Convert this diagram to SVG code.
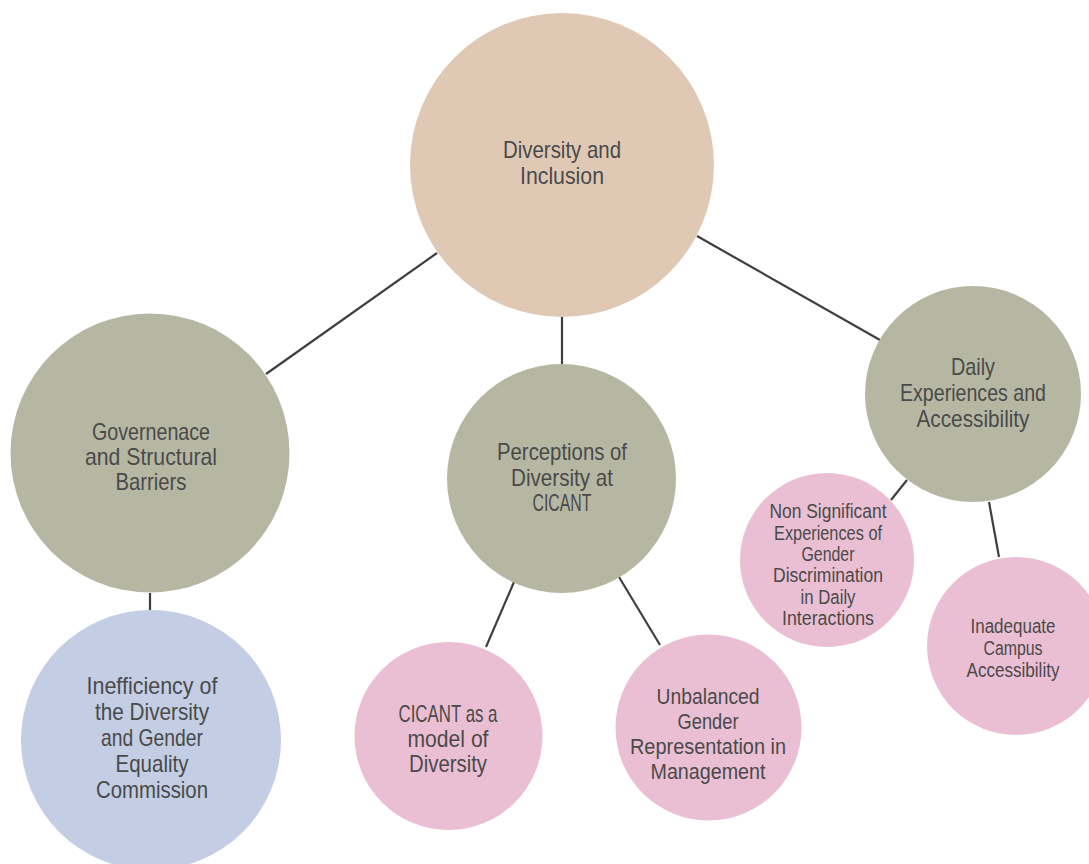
<svg xmlns="http://www.w3.org/2000/svg" width="1089" height="864" viewBox="0 0 1089 864">
  <style>
    .bg { fill: #ffffff; }
    .root { fill: #dfc9b5; }
    .theme { fill: #b6b7a3; }
    .blue { fill: #c3cde3; }
    .pink { fill: #eabfd3; }
    .edge { stroke: #3f3f3f; stroke-width: 2.2; fill: none; stroke-linecap: butt; }
    text { font-family: "Liberation Sans Narrow", "Liberation Sans", Arial, sans-serif; fill: #4a4a4a; text-anchor: middle; }
    .lg { font-size: 24px; }
    .md { font-size: 22px; }
    .sm { font-size: 20px; }
  </style>
  <rect class="bg" x="0" y="0" width="1089" height="864"/>

  <!-- connectors, drawn rim to rim -->
  <g id="connectors">
    <line class="edge" x1="437" y1="253" x2="266" y2="374"/>
    <line class="edge" x1="562" y1="317" x2="562" y2="365"/>
    <line class="edge" x1="697" y1="236" x2="880" y2="340"/>
    <line class="edge" x1="150" y1="593" x2="150" y2="610"/>
    <line class="edge" x1="514" y1="582" x2="486" y2="647"/>
    <line class="edge" x1="619" y1="577" x2="660" y2="645"/>
    <line class="edge" x1="907" y1="480" x2="891" y2="500"/>
    <line class="edge" x1="989" y1="502" x2="999" y2="557"/>
  </g>

  <g id="node-diversity-inclusion">
    <circle class="root" cx="562" cy="165" r="152"/>
    <text class="lg"><tspan x="562" y="158" textLength="118" lengthAdjust="spacingAndGlyphs">Diversity and</tspan><tspan x="562" y="184" textLength="84" lengthAdjust="spacingAndGlyphs">Inclusion</tspan></text>
  </g>

  <g id="node-governance">
    <circle class="theme" cx="150" cy="453" r="139.5"/>
    <text class="lg"><tspan x="151" y="440" textLength="118" lengthAdjust="spacingAndGlyphs">Governenace</tspan><tspan x="151" y="465" textLength="132" lengthAdjust="spacingAndGlyphs">and Structural</tspan><tspan x="151" y="490" textLength="71" lengthAdjust="spacingAndGlyphs">Barriers</tspan></text>
  </g>

  <g id="node-perceptions">
    <circle class="theme" cx="561.5" cy="478.5" r="114.5"/>
    <text class="lg"><tspan x="562" y="460" textLength="130" lengthAdjust="spacingAndGlyphs">Perceptions of</tspan><tspan x="562" y="485.5" textLength="102" lengthAdjust="spacingAndGlyphs">Diversity at</tspan><tspan x="562" y="511" textLength="59" lengthAdjust="spacingAndGlyphs">CICANT</tspan></text>
  </g>

  <g id="node-daily">
    <circle class="theme" cx="973" cy="394" r="108"/>
    <text class="lg"><tspan x="973" y="375" textLength="44" lengthAdjust="spacingAndGlyphs">Daily</tspan><tspan x="973" y="401" textLength="146" lengthAdjust="spacingAndGlyphs">Experiences and</tspan><tspan x="973" y="427" textLength="113" lengthAdjust="spacingAndGlyphs">Accessibility</tspan></text>
  </g>

  <g id="node-commission">
    <circle class="blue" cx="151" cy="740" r="130"/>
    <text class="lg"><tspan x="152" y="694" textLength="131" lengthAdjust="spacingAndGlyphs">Inefficiency of</tspan><tspan x="152" y="720" textLength="114" lengthAdjust="spacingAndGlyphs">the Diversity</tspan><tspan x="152" y="746" textLength="102" lengthAdjust="spacingAndGlyphs">and Gender</tspan><tspan x="152" y="772" textLength="73" lengthAdjust="spacingAndGlyphs">Equality</tspan><tspan x="152" y="798" textLength="112" lengthAdjust="spacingAndGlyphs">Commission</tspan></text>
  </g>

  <g id="node-cicant-model">
    <circle class="pink" cx="448.5" cy="736" r="94"/>
    <text class="lg"><tspan x="448" y="722" textLength="99" lengthAdjust="spacingAndGlyphs">CICANT as a</tspan><tspan x="448" y="747" textLength="81" lengthAdjust="spacingAndGlyphs">model of</tspan><tspan x="448" y="772" textLength="78" lengthAdjust="spacingAndGlyphs">Diversity</tspan></text>
  </g>

  <g id="node-unbalanced">
    <circle class="pink" cx="708.5" cy="727.5" r="93"/>
    <text class="md"><tspan x="708" y="704" textLength="103" lengthAdjust="spacingAndGlyphs">Unbalanced</tspan><tspan x="708" y="729" textLength="61" lengthAdjust="spacingAndGlyphs">Gender</tspan><tspan x="708" y="754" textLength="156" lengthAdjust="spacingAndGlyphs">Representation in</tspan><tspan x="708" y="779" textLength="115" lengthAdjust="spacingAndGlyphs">Management</tspan></text>
  </g>

  <g id="node-non-significant">
    <circle class="pink" cx="827" cy="560" r="87"/>
    <text class="sm"><tspan x="828" y="518" textLength="117" lengthAdjust="spacingAndGlyphs">Non Significant</tspan><tspan x="828" y="539.5" textLength="108" lengthAdjust="spacingAndGlyphs">Experiences of</tspan><tspan x="828" y="561" textLength="53" lengthAdjust="spacingAndGlyphs">Gender</tspan><tspan x="828" y="582" textLength="110" lengthAdjust="spacingAndGlyphs">Discrimination</tspan><tspan x="828" y="603.5" textLength="55" lengthAdjust="spacingAndGlyphs">in Daily</tspan><tspan x="828" y="625" textLength="92" lengthAdjust="spacingAndGlyphs">Interactions</tspan></text>
  </g>

  <g id="node-inadequate">
    <circle class="pink" cx="1016" cy="646" r="89"/>
    <text class="sm"><tspan x="1013" y="633" textLength="85" lengthAdjust="spacingAndGlyphs">Inadequate</tspan><tspan x="1013" y="655" textLength="59" lengthAdjust="spacingAndGlyphs">Campus</tspan><tspan x="1013" y="677" textLength="93" lengthAdjust="spacingAndGlyphs">Accessibility</tspan></text>
  </g>
</svg>
